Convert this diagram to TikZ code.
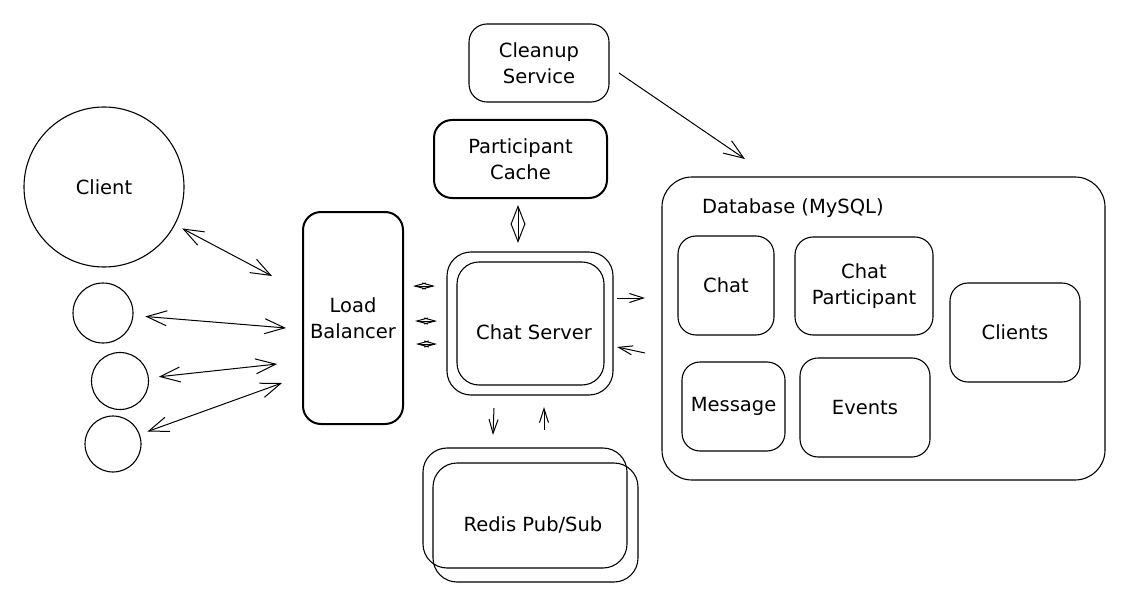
\documentclass[tikz,border=0pt]{standalone}
\usepackage{fontspec}
\setmainfont{DejaVu Sans}
\usetikzlibrary{arrows.meta}
\begin{document}
\begin{tikzpicture}[x=1pt,y=-1pt,
  txt/.style={font=\fontsize{19.5}{25.5}\selectfont, align=center, inner sep=0pt},
  box/.style={draw, line width=1.1pt, rounded corners=18pt, inner sep=0pt, txt},
  boldbox/.style={box, line width=2pt},
  circ/.style={draw, circle, line width=1.1pt, inner sep=0pt, txt},
  biarrow/.style={line width=1pt, {Straight Barb[length=20pt,width=15pt]}-{Straight Barb[length=20pt,width=15pt]}},
  onearrow/.style={line width=1pt, -{Straight Barb[length=20pt,width=15pt]}},
  shortarrow/.style={line width=1pt, -{Straight Barb[length=14pt,width=9pt]}},
  tinydiam/.style={line width=1pt, {Straight Barb[length=11pt,width=6pt]}-{Straight Barb[length=11pt,width=6pt]}},
  vdiam/.style={line width=1pt, {Straight Barb[length=18pt,width=14pt]}-{Straight Barb[length=18pt,width=14pt]}}
]
\useasboundingbox[fill=white] (0,0) rectangle (1130,607);

% Top services
\node[box, minimum width=140pt, minimum height=78pt] (cleanup) at (539,63) {Cleanup\\Service};
\node[boldbox, minimum width=173pt, minimum height=78pt] (pcache) at (520.5,159) {Participant\\Cache};

% Clients
\node[circ, minimum size=160pt] (client) at (104,187) {Client};
\node[circ, minimum size=60pt] (c1) at (103,313) {};
\node[circ, minimum size=57pt] (c2) at (120,381) {};
\node[circ, minimum size=56pt] (c3) at (113,444) {};

% Load balancer
\node[boldbox, minimum width=100pt, minimum height=212pt] (lb) at (353,318) {Load\\Balancer};

% Chat server (double outline)
\node[box, minimum width=166pt, minimum height=143pt, rounded corners=24pt] (csout) at (530,323.5) {};
\node[box, minimum width=147pt, minimum height=123pt, rounded corners=22pt] (cs) at (530.5,323.5) {};
\node[txt] (cstext) at (534,332) {Chat Server};

% Redis (double outline)
\node[box, minimum width=204pt, minimum height=120pt, rounded corners=24pt] (redisout) at (525,508) {};
\node[box, minimum width=205pt, minimum height=119pt, rounded corners=24pt] (redis) at (535.5,522.5) {};
\node[txt] (redistext) at (533,525) {Redis Pub/Sub};

% Database
\node[box, minimum width=443pt, minimum height=303pt, rounded corners=30pt] (db) at (883.5,328.5) {};
\node[txt, anchor=west] (dbtitle) at (702,208) {Database (MySQL)};
\node[box, minimum width=96pt, minimum height=99pt] (chat) at (726,285.5) {Chat};
\node[box, minimum width=138pt, minimum height=98pt] (cpart) at (864,286) {Chat\\Participant};
\node[box, minimum width=130pt, minimum height=99pt] (clients) at (1015,332.5) {Clients};
\node[box, minimum width=103pt, minimum height=89pt] (msg) at (733.5,406.5) {Message};
\node[box, minimum width=130pt, minimum height=99pt] (events) at (865,407.5) {Events};

% Coordinates for free connector ends
\coordinate (lbin0) at (272,276);
\coordinate (lbin1) at (286,328);
\coordinate (lbin2) at (277,364);
\coordinate (lbin3) at (282,383);
\coordinate (d1a) at (413,286);  \coordinate (d1b) at (435,286);
\coordinate (d2a) at (415,321);  \coordinate (d2b) at (437,321);
\coordinate (d3a) at (416,344);  \coordinate (d3b) at (437,344);
\coordinate (vda) at (518,205);  \coordinate (vdb) at (518,243);
\coordinate (outA) at (617,298); \coordinate (outB) at (645,298);
\coordinate (inA) at (645,353);  \coordinate (inB) at (617,347);
\coordinate (dnA) at (494,408);  \coordinate (dnB) at (493,435);
\coordinate (upA) at (544,430);  \coordinate (upB) at (544,407);
\coordinate (cleanA) at (619,73); \coordinate (cleanB) at (745,159);

% Client <-> load balancer
\draw[biarrow, shorten <=8pt] (client) -- (lbin0);
\draw[biarrow, shorten <=12pt] (c1) -- (lbin1);
\draw[biarrow, shorten <=10pt] (c2) -- (lbin2);
\draw[biarrow, shorten <=8pt] (c3) -- (lbin3);

% Load balancer <-> chat server (small)
\draw[tinydiam] (d1a) -- (d1b);
\draw[tinydiam] (d2a) -- (d2b);
\draw[tinydiam] (d3a) -- (d3b);

% Participant cache <-> chat server
\draw[vdiam] (vda) -- (vdb);

% Chat server <-> database
\draw[shortarrow] (outA) -- (outB);
\draw[shortarrow] (inA) -- (inB);

% Chat server <-> redis
\draw[shortarrow] (dnA) -- (dnB);
\draw[shortarrow] (upA) -- (upB);

% Cleanup -> database
\draw[onearrow] (cleanA) -- (cleanB);
\end{tikzpicture}
\end{document}
